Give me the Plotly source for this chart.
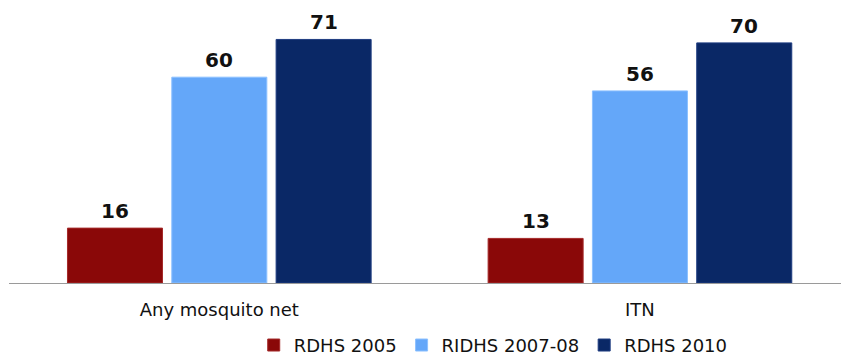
import plotly.graph_objects as go

# Bed-net ownership by survey round (%)
categories = ["Any mosquito net", "ITN"]
series_names = ["RDHS 2005", "RIDHS 2007-08", "RDHS 2010"]
rdhs_2005 = [16, 13]
ridhs_2007_08 = [60, 56]
rdhs_2010 = [71, 70]

values = [rdhs_2005, ridhs_2007_08, rdhs_2010]
colors = ["#8A0808", "#64A7F9", "#0A2866"]
edge_colors = ["#A52A2A", "#8CC0FF", "#1E3C80"]

FONT = "DejaVu Sans, Verdana, sans-serif"
BARGAP = 0.256
SLOT = (1 - BARGAP) / len(values)  # width of one bar slot in category units

fig = go.Figure()
for name, vals, col, edge in zip(series_names, values, colors, edge_colors):
    fig.add_trace(go.Bar(
        x=categories,
        y=vals,
        name=name,
        marker=dict(color=col, line=dict(color=edge, width=1)),
    ))

# value labels above each bar
for i, vals in enumerate(values):
    for j, v in enumerate(vals):
        fig.add_annotation(
            x=j + (i - (len(values) - 1) / 2) * SLOT,
            y=v,
            xref="x",
            yref="y",
            text=f"<b>{v}</b>",
            showarrow=False,
            yanchor="bottom",
            yshift=3,
            font=dict(family=FONT, size=20, color="#111111"),
        )

fig.update_layout(
    width=841,
    height=356,
    margin=dict(l=9, r=0, t=0, b=73, autoexpand=False),
    paper_bgcolor="white",
    plot_bgcolor="white",
    barmode="group",
    bargap=BARGAP,
    bargroupgap=0.089,
    showlegend=True,
    legend=dict(
        orientation="h",
        x=0.582,
        xanchor="center",
        xref="paper",
        y=0.03,
        yanchor="middle",
        yref="container",
        font=dict(family=FONT, size=18, color="#111111"),
        itemwidth=30,
        traceorder="normal",
    ),
    font=dict(family=FONT, size=18, color="#111111"),
)

fig.update_xaxes(
    range=[-0.5, 1.478],
    showline=True,
    linecolor="#9A9A9A",
    linewidth=1,
    showgrid=False,
    ticks="",
    ticklabelstandoff=10,
    tickfont=dict(family=FONT, size=18, color="#111111"),
    automargin=False,
)
fig.update_yaxes(
    range=[0, 82.5],
    visible=False,
    showgrid=False,
    zeroline=False,
    automargin=False,
)

fig.write_html("out.html")
